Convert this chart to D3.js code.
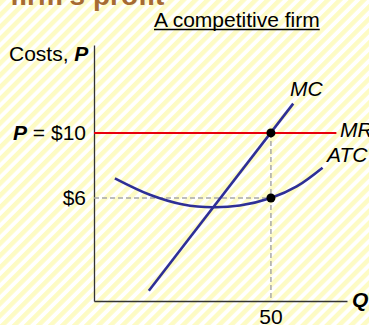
<!DOCTYPE html>
<html>
<head>
<meta charset="utf-8">
<script src="https://cdn.jsdelivr.net/npm/d3@7"></script>
<style>
  html, body { margin: 0; padding: 0; background: #fff; }
  svg { display: block; font-family: Arial, "Liberation Sans", sans-serif; }
</style>
</head>
<body>
<svg id="chart" width="369" height="325"></svg>
<script>
// Price levels marked on the vertical axis
const priceLevels = [10, 6];
const priceLabels = ["= $10", "$6"];
// Quantity marked on the horizontal axis
const quantityTicks = [50];
// Marginal cost line (quantity, price)
const mcQ = [15.5, 56.3];
const mcP = [0.3, 11.8];
// Average total cost curve (quantity, price)
const atcQ = [5.9, 15.8, 25.2, 33.7, 41.2, 50, 57.3, 64.6];
const atcP = [7.21, 6.2, 5.6, 5.43, 5.54, 6.0, 6.71, 7.86];
// Market price = marginal revenue
const marketPrice = 10;
const mrQ = [0, 68.5];

const W = 369, H = 325;
const FS = 21;
const svg = d3.select("#chart");
const blue = "#2e2f96";

// Striped backdrop
const defs = svg.append("defs");
const pat = defs.append("pattern")
  .attr("id", "stripes").attr("patternUnits", "userSpaceOnUse")
  .attr("width", 8.5).attr("height", 8.5)
  .attr("patternTransform", "rotate(45)");
pat.append("rect").attr("width", 8.5).attr("height", 8.5).attr("fill", "#ffffff");
pat.append("rect").attr("width", 4.5).attr("height", 8.5).attr("fill", "#fdfbc4");
svg.append("rect").attr("width", W).attr("height", H).attr("fill", "url(#stripes)");

// Slide heading (runs off the top edge)
svg.append("text").attr("x", 10).attr("y", 5)
  .attr("font-size", 28).attr("font-weight", "bold").attr("fill", "#a66a32")
  .text("firm's profit");

// Panel caption
const cap = svg.append("text").attr("x", 154).attr("y", 27)
  .attr("font-size", FS).attr("fill", "#000").text("A competitive firm");
const cb = cap.node().getBBox();
svg.append("line").attr("x1", cb.x).attr("x2", cb.x + cb.width)
  .attr("y1", 29.5).attr("y2", 29.5).attr("stroke", "#000").attr("stroke-width", 1.3);

// Scales
const x = d3.scaleLinear().domain([0, 71.5]).range([94, 347]);
const y = d3.scaleLinear().domain([-0.33, 15.4]).range([301, 45]);

// Axes
const yAxis = svg.append("g").attr("transform", `translate(${x(0)},0)`)
  .call(d3.axisLeft(y).tickValues([]).tickSizeOuter(0));
const xAxis = svg.append("g").attr("transform", `translate(0,${y.range()[0]})`)
  .call(d3.axisBottom(x).tickValues([]).tickSizeOuter(0));
[yAxis, xAxis].forEach(g => g.select(".domain").attr("stroke", "#333").attr("stroke-width", 1.3));

// Axis titles
const yt = svg.append("text").attr("x", 9).attr("y", 61).attr("font-size", FS);
yt.append("tspan").text("Costs, ");
yt.append("tspan").attr("font-weight", "bold").attr("font-style", "italic").text("P");
svg.append("text").attr("x", 352).attr("y", 307).attr("font-size", FS)
  .attr("font-weight", "bold").attr("font-style", "italic").text("Q");

// Dashed guides
const dash = "5,3";
svg.append("line").attr("x1", x(0)).attr("x2", x(quantityTicks[0]))
  .attr("y1", y(priceLevels[1])).attr("y2", y(priceLevels[1]))
  .attr("stroke", "#a8a8a8").attr("stroke-width", 1.5).attr("stroke-dasharray", dash);
svg.append("line").attr("x1", x(quantityTicks[0])).attr("x2", x(quantityTicks[0]))
  .attr("y1", y(marketPrice)).attr("y2", y.range()[0])
  .attr("stroke", "#a8a8a8").attr("stroke-width", 1.5).attr("stroke-dasharray", dash);

// Price labels
priceLevels.forEach((p, i) => {
  const t = svg.append("text").attr("x", 86).attr("y", y(p) + 7)
    .attr("text-anchor", "end").attr("font-size", FS);
  if (i === 0) {
    t.append("tspan").attr("font-weight", "bold").attr("font-style", "italic").text("P");
    t.append("tspan").text(" " + priceLabels[i]);
  } else {
    t.text(priceLabels[i]);
  }
});

// Quantity label
quantityTicks.forEach(q => {
  svg.append("text").attr("x", x(q)).attr("y", 324).attr("text-anchor", "middle")
    .attr("font-size", FS).text(q);
});

// MR line
svg.append("line").attr("x1", x(mrQ[0])).attr("x2", x(mrQ[1]))
  .attr("y1", y(marketPrice)).attr("y2", y(marketPrice))
  .attr("stroke", "#e8000c").attr("stroke-width", 2);

// ATC curve
const atc = atcQ.map((q, i) => [q, atcP[i]]);
svg.append("path").datum(atc)
  .attr("d", d3.line().x(d => x(d[0])).y(d => y(d[1])).curve(d3.curveCatmullRom))
  .attr("fill", "none").attr("stroke", blue).attr("stroke-width", 2.6);

// MC line
const mc = mcQ.map((q, i) => [q, mcP[i]]);
svg.append("path").datum(mc)
  .attr("d", d3.line().x(d => x(d[0])).y(d => y(d[1])))
  .attr("fill", "none").attr("stroke", blue).attr("stroke-width", 2.6);

// Curve labels
const lab = (tx, ty, s) => svg.append("text").attr("x", tx).attr("y", ty)
  .attr("font-size", FS).attr("font-style", "italic").text(s);
lab(290, 96, "MC");
lab(340, 137, "MR");
lab(327, 162, "ATC");

// Points at the profit-maximizing quantity
[marketPrice, priceLevels[1]].forEach(p => {
  svg.append("circle").attr("cx", x(quantityTicks[0])).attr("cy", y(p))
    .attr("r", 4.5).attr("fill", "#000");
});
</script>
</body>
</html>
